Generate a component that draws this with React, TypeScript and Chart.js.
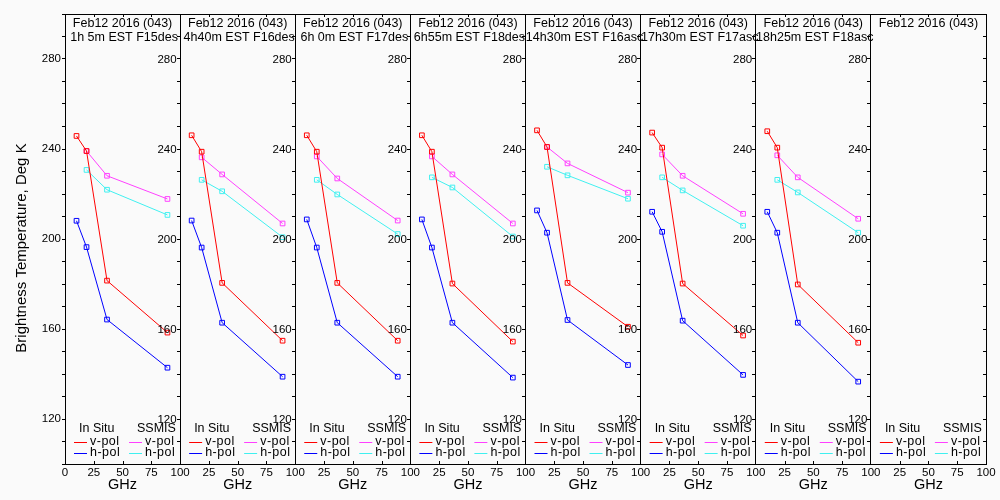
import React, { useEffect, useRef } from 'react';
import { Chart, registerables } from 'chart.js';

Chart.register(...registerables);

const dateLabel = 'Feb12 2016 (043)';
const timeLabels = [
  '1h 5m EST F15des',
  '4h40m EST F16des',
  '6h 0m EST F17des',
  '6h55m EST F18des',
  '14h30m EST F16asc',
  '17h30m EST F17asc',
  '18h25m EST F18asc',
  '',
];
const yTitle = 'Brightness Temperature, Deg K';
const xTitle = 'GHz';
const inSituFreqs = [10, 18.7, 36.5, 89];
const ssmisFreqs = [18.7, 36.5, 89];

const inSituVPol = [
  [245.8, 239.1, 181.5, 158.4],
  [246.1, 238.8, 180.5, 154.8],
  [246.1, 238.8, 180.5, 154.8],
  [246.1, 238.8, 180.2, 154.4],
  [248.3, 240.9, 180.5, 161.0],
  [247.3, 240.6, 180.2, 157.1],
  [247.9, 240.6, 179.8, 153.9],
];
const inSituHPol = [
  [208.1, 196.4, 164.2, 142.8],
  [208.2, 196.2, 162.8, 138.8],
  [208.7, 196.2, 162.8, 138.8],
  [208.7, 196.2, 162.8, 138.4],
  [212.7, 202.8, 164.0, 144.0],
  [212.1, 203.2, 163.7, 139.6],
  [212.1, 202.8, 162.8, 136.6],
];
const ssmisVPol = [
  [239.1, 228.1, 217.8],
  [236.3, 228.7, 206.9],
  [236.7, 226.9, 208.2],
  [236.7, 228.7, 206.9],
  [240.9, 233.6, 220.6],
  [237.6, 228.1, 211.2],
  [237.2, 227.4, 209.0],
];
const ssmisHPol = [
  [230.7, 221.9, 210.7],
  [226.3, 221.2, 200.8],
  [226.3, 219.8, 202.2],
  [227.4, 222.9, 201.1],
  [232.1, 228.3, 217.9],
  [227.4, 221.6, 205.9],
  [226.3, 220.7, 202.8],
];

const PANELS = 8;
const PANEL_SPAN = 100;
const yMin = 100;
const yMax = 300;
const yLabelStep = 40;

const RED = '#ff0000';
const BLUE = '#0000ff';
const MAGENTA = '#ff40ff';
const CYAN = '#40f0f0';
const FONT = "'Liberation Sans', Arial, sans-serif";

const isYLabel = (v: number) => v > yMin && v < yMax && v % yLabelStep === 0;

function makeSeries(values: number[][], freqs: number[], color: string, label: string) {
  return values.map((vals, p) => ({
    label: `${label} ${p + 1}`,
    data: vals.map((v, i) => ({ x: p * PANEL_SPAN + freqs[i], y: v })),
    borderColor: color,
    backgroundColor: 'rgba(0,0,0,0)',
    borderWidth: 1,
    pointStyle: 'rect',
    pointRadius: 3.3,
    pointBorderWidth: 1,
    pointBorderColor: color,
    pointBackgroundColor: 'rgba(0,0,0,0)',
    tension: 0,
    xAxisID: 'x',
    yAxisID: 'y',
  }));
}

const panelDecor = {
  id: 'panelDecor',
  afterDraw(chart: any) {
    const ctx = chart.ctx as CanvasRenderingContext2D;
    const x = chart.scales.x;
    const area = chart.chartArea;
    ctx.save();
    ctx.strokeStyle = '#000';
    ctx.lineWidth = 1;
    // inward x ticks (top and bottom)
    x.ticks.forEach((t: any) => {
      if (t.value % PANEL_SPAN === 0) return;
      const px = Math.round(x.getPixelForValue(t.value)) + 0.5;
      ctx.beginPath();
      ctx.moveTo(px, area.bottom);
      ctx.lineTo(px, area.bottom - 3);
      ctx.moveTo(px, area.top);
      ctx.lineTo(px, area.top + 3);
      ctx.stroke();
    });
    // y tick labels of the inner panel axes
    ctx.fillStyle = '#000';
    ctx.font = `11.5px ${FONT}`;
    ctx.textAlign = 'right';
    ctx.textBaseline = 'middle';
    for (let p = 1; p < PANELS; p++) {
      const s = chart.scales[`y${p}`];
      const px = x.getPixelForValue(p * PANEL_SPAN);
      s.ticks.forEach((t: any) => {
        if (!isYLabel(t.value)) return;
        ctx.fillText(String(t.value), px - 3.5, s.getPixelForValue(t.value) + 0.5);
      });
    }
    // y title
    ctx.save();
    ctx.translate(21.5, (area.top + area.bottom) / 2 + 9);
    ctx.rotate(-Math.PI / 2);
    ctx.textAlign = 'center';
    ctx.font = `15px ${FONT}`;
    ctx.fillText(yTitle, 0, 0);
    ctx.restore();

    for (let p = 0; p < PANELS; p++) {
      const left = x.getPixelForValue(p * PANEL_SPAN);
      const right = x.getPixelForValue((p + 1) * PANEL_SPAN);
      const cx = (left + right) / 2;
      ctx.fillStyle = '#000';
      ctx.textBaseline = 'middle';
      ctx.textAlign = 'center';
      ctx.font = `12.5px ${FONT}`;
      ctx.fillText(dateLabel, cx, area.top + 10);
      if (timeLabels[p]) ctx.fillText(timeLabels[p], cx + 1.5, area.top + 24);
      ctx.font = `14.5px ${FONT}`;
      ctx.fillText(xTitle, cx, area.bottom + 21);
      // legend
      ctx.textAlign = 'left';
      ctx.font = `12.5px ${FONT}`;
      const b = area.bottom;
      ctx.fillText('In Situ', left + 14, b - 35);
      ctx.fillText('SSMIS', left + 72, b - 35);
      const rows = [
        { y: b - 22, c1: RED, c2: MAGENTA, t: 'v-pol' },
        { y: b - 11, c1: BLUE, c2: CYAN, t: 'h-pol' },
      ];
      rows.forEach((r) => {
        const yy = Math.round(r.y) + 0.5;
        ctx.strokeStyle = r.c1;
        ctx.beginPath();
        ctx.moveTo(left + 9, yy);
        ctx.lineTo(left + 22, yy);
        ctx.stroke();
        ctx.strokeStyle = r.c2;
        ctx.beginPath();
        ctx.moveTo(left + 64, yy);
        ctx.lineTo(left + 77, yy);
        ctx.stroke();
        ctx.fillStyle = '#000';
        (ctx as any).letterSpacing = '0.5px';
        ctx.fillText(r.t, left + 25, r.y);
        ctx.fillText(r.t, left + 80, r.y);
        (ctx as any).letterSpacing = '0px';
      });
    }
    ctx.restore();
  },
};

function yAxis(pos: any, showLabels: boolean, main: boolean) {
  return {
    type: 'linear',
    position: pos,
    min: yMin,
    max: yMax,
    grid: { drawOnChartArea: false, drawTicks: true, tickLength: 3, color: '#000' },
    border: { display: true, color: '#000', width: 1 },
    ticks: {
      stepSize: 10,
      autoSkip: false,
      padding: 1,
      color: '#000',
      font: { family: FONT, size: 11.5 },
      callback: (v: number) => (showLabels && isYLabel(v) ? String(v) : ''),
    },
    title: { display: false },
    afterFit: main ? (s: any) => { s.width = 65; } : undefined,
  };
}

export default function App() {
  const ref = useRef<HTMLCanvasElement | null>(null);
  useEffect(() => {
    document.body.style.margin = '0';
    const datasets = [
      ...makeSeries(inSituVPol, inSituFreqs, RED, 'In Situ v-pol'),
      ...makeSeries(inSituHPol, inSituFreqs, BLUE, 'In Situ h-pol'),
      ...makeSeries(ssmisVPol, ssmisFreqs, MAGENTA, 'SSMIS v-pol'),
      ...makeSeries(ssmisHPol, ssmisFreqs, CYAN, 'SSMIS h-pol'),
    ];
    const scales: any = {
      x: {
        type: 'linear',
        position: 'bottom',
        min: 0,
        max: PANELS * PANEL_SPAN,
        grid: { drawOnChartArea: false, drawTicks: false },
        border: { display: true, color: '#000', width: 1 },
        ticks: {
          stepSize: 25,
          autoSkip: false,
          maxRotation: 0,
          padding: 2,
          color: '#000',
          font: { family: FONT, size: 11.5 },
          callback: (v: number) => (v === 0 ? '0' : v % PANEL_SPAN === 0 ? '100' : String(v % PANEL_SPAN)),
        },
        afterFit: (s: any) => { s.height = 36; },
      },
      xTop: {
        type: 'linear',
        position: 'top',
        min: 0,
        max: PANELS * PANEL_SPAN,
        grid: { drawOnChartArea: false, drawTicks: false },
        border: { display: true, color: '#000', width: 1 },
        ticks: { display: false },
        afterFit: (s: any) => { s.height = 0; },
      },
      y: yAxis('left', true, true),
    };
    for (let p = 1; p <= PANELS; p++) {
      scales[`y${p}`] = yAxis({ x: p * PANEL_SPAN }, false, false);
    }
    const chart = new Chart(ref.current as HTMLCanvasElement, {
      type: 'line',
      data: { datasets } as any,
      options: {
        animation: false,
        responsive: false,
        devicePixelRatio: 1,
        layout: { padding: { top: 14, right: 14, left: 0, bottom: 0 } },
        plugins: { legend: { display: false }, tooltip: { enabled: false } },
        scales,
      } as any,
      plugins: [panelDecor],
    });
    return () => chart.destroy();
  }, []);
  return (
    <div style={{ position: 'fixed', left: 0, top: 0, width: 1000, height: 500, background: '#fafafa' }}>
      <canvas ref={ref} width={1000} height={500} style={{ width: 1000, height: 500 }} />
    </div>
  );
}
